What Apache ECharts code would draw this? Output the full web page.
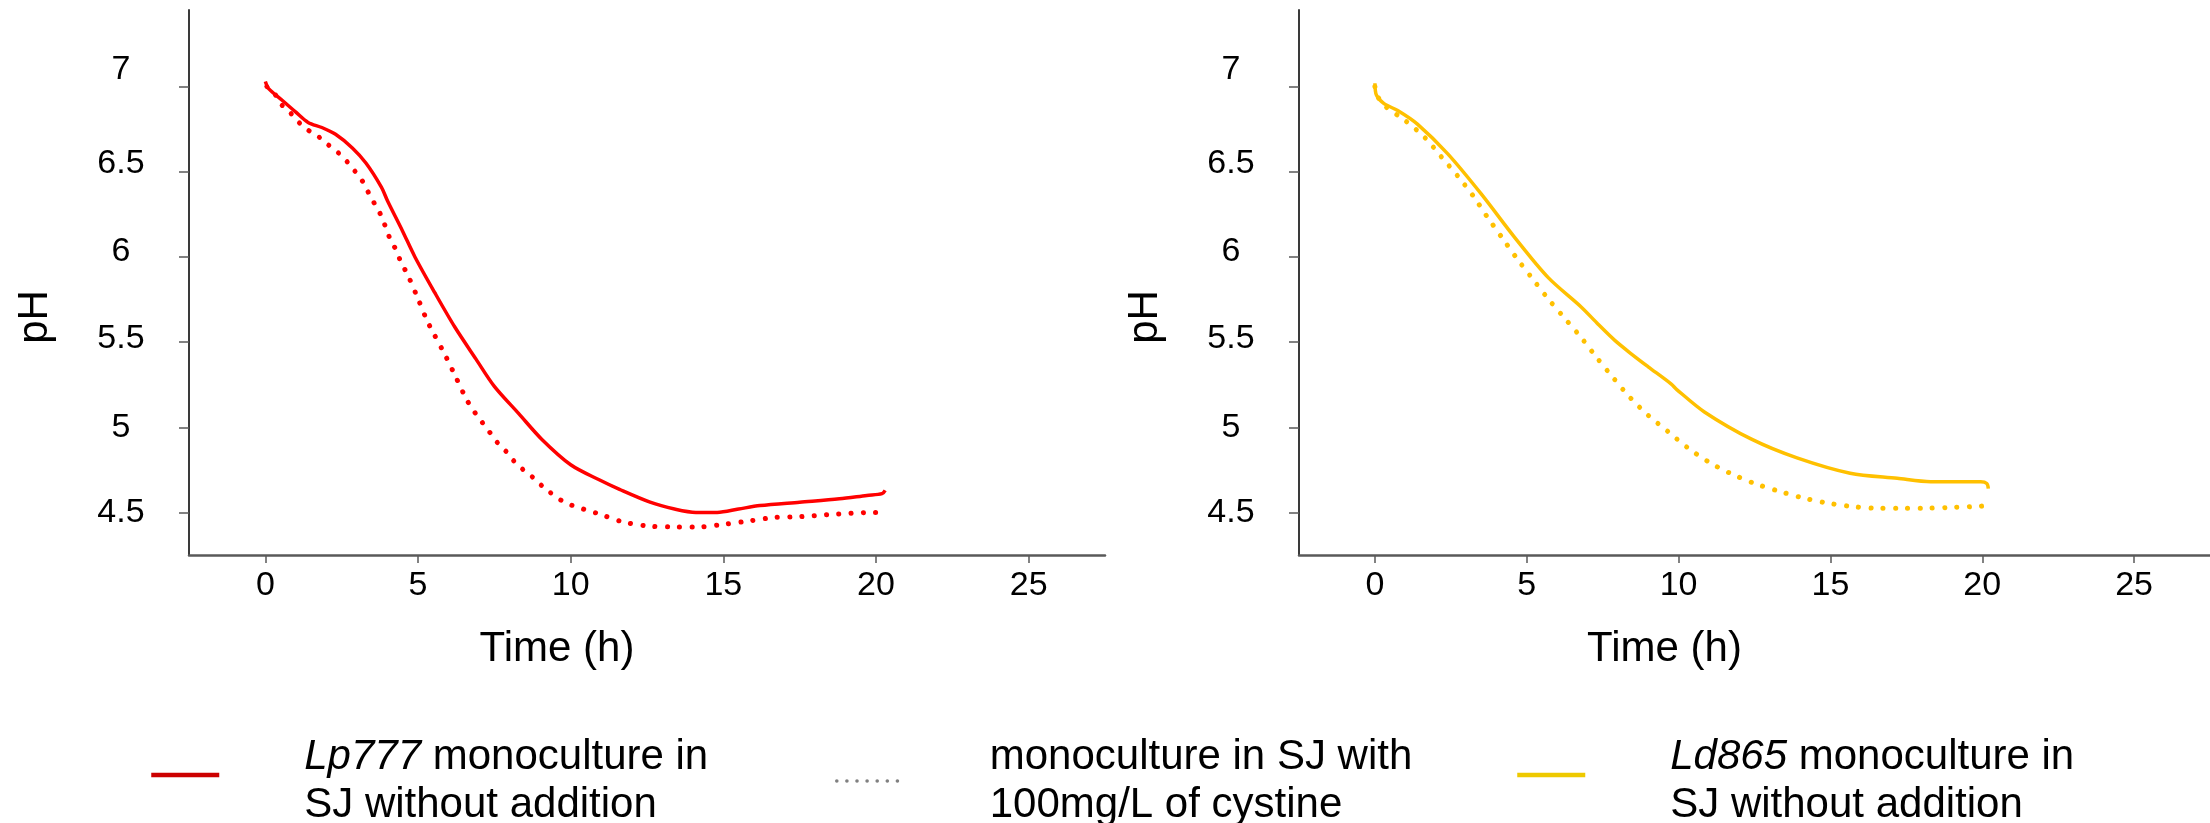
<!DOCTYPE html>
<html>
<head>
<meta charset="utf-8">
<script src="https://cdn.jsdelivr.net/npm/echarts@6/dist/echarts.min.js"></script>
<style>
html,body{margin:0;padding:0;background:#fff;}
#c{width:2210px;height:823px;}
</style>
</head>
<body>
<div id="c"></div>
<script>
// ---- data ----
const lp777Time = [0, 0.1, 0.55, 1.0, 1.4, 1.85, 2.3, 2.85, 3.3, 3.8, 4.0, 4.5, 4.9, 5.55, 6.2, 6.9, 7.5, 8.3, 9.05, 10.0, 10.95, 11.6, 12.6, 13.4, 14.1, 14.8, 15.5, 16.2, 17.5, 18.8, 19.7, 20.2, 20.3];
const lp777PH   = [7.03, 6.99, 6.92, 6.85, 6.79, 6.76, 6.72, 6.64, 6.55, 6.41, 6.33, 6.15, 6.00, 5.79, 5.59, 5.40, 5.24, 5.08, 4.93, 4.78, 4.69, 4.635, 4.56, 4.52, 4.50, 4.50, 4.52, 4.54, 4.56, 4.58, 4.60, 4.61, 4.63];

const lp777CysTime = [0.05, 0.3, 0.5, 0.8, 1.1, 1.4, 1.75, 2.05, 2.4, 2.7, 2.95, 3.2, 3.4, 3.6, 3.8, 3.95, 4.1, 4.3, 4.45, 4.65, 5.0, 5.3, 5.5, 5.9, 6.25, 6.6, 6.85, 7.1, 7.35, 7.6, 7.9, 8.15, 8.45, 8.8, 9.1, 9.8, 10.95, 11.7, 12.55, 13.35, 14.2, 15.0, 15.85, 16.65, 17.5, 18.7, 19.95, 20.3];
const lp777CysPH   = [7.0, 6.96, 6.90, 6.85, 6.79, 6.745, 6.705, 6.66, 6.61, 6.555, 6.50, 6.44, 6.37, 6.305, 6.24, 6.17, 6.10, 6.035, 5.965, 5.90, 5.755, 5.625, 5.555, 5.42, 5.29, 5.16, 5.09, 5.03, 4.97, 4.91, 4.855, 4.80, 4.75, 4.70, 4.65, 4.56, 4.49, 4.445, 4.42, 4.415, 4.415, 4.43, 4.45, 4.47, 4.475, 4.49, 4.50, 4.50];

const ld865Time = [0, 0.05, 0.3, 0.75, 1.4, 2.4, 3.5, 4.6, 5.7, 6.8, 7.35, 7.9, 8.45, 9.0, 9.75, 9.95, 10.85, 12.4, 13.9, 15.65, 17.2, 18.3, 19.95, 20.15, 20.2];
const ld865PH   = [7.02, 6.95, 6.90, 6.86, 6.78, 6.605, 6.37, 6.115, 5.88, 5.705, 5.605, 5.51, 5.43, 5.355, 5.255, 5.22, 5.09, 4.93, 4.82, 4.73, 4.70, 4.68, 4.68, 4.67, 4.64];

const ld865CysTime = [0, 0.1, 0.3, 1.0, 1.65, 2.2, 2.75, 3.25, 3.7, 4.2, 4.7, 5.2, 5.7, 6.25, 6.8, 7.3, 7.85, 8.4, 9.0, 9.65, 10.3, 11.0, 11.7, 12.5, 13.3, 14.1, 14.9, 15.7, 16.5, 17.35, 18.2, 19.05, 19.8, 20.2];
const ld865CysPH   = [7.0, 6.94, 6.89, 6.80, 6.70, 6.585, 6.47, 6.355, 6.235, 6.11, 5.985, 5.87, 5.755, 5.64, 5.525, 5.41, 5.29, 5.175, 5.07, 4.975, 4.88, 4.795, 4.73, 4.67, 4.625, 4.585, 4.555, 4.535, 4.525, 4.525, 4.525, 4.53, 4.535, 4.54];

const xTicks = [0, 5, 10, 15, 20, 25];
const yTicks = [4.5, 5, 5.5, 6, 6.5, 7];
const xAxisTitle = 'Time (h)';
const yAxisTitle = 'pH';
const seriesNames = [
  'Lp777 monoculture in SJ without addition',
  'monoculture in SJ with 100mg/L of cystine',
  'Ld865 monoculture in SJ without addition'
];
const legendLabels = [
  '{i|Lp777} monoculture in\nSJ without addition',
  'monoculture in SJ with\n100mg/L of cystine',
  '{i|Ld865} monoculture in\nSJ without addition'
];

// ---- styling ----
const FONT = '"Liberation Sans", Arial, "Helvetica", sans-serif';
const AXIS_GRAY = '#595959';
const RED = '#ff0000';
const YELLOW = '#ffc000';
// small upward lift of y tick labels (as in the reference)
const yLift = {a45: 0, a5: 0, a55: 3, a6: 5, a65: 8, a7: 17};
const yRich = {};
Object.keys(yLift).forEach(k => {
  yRich[k] = {fontSize: 34, fontFamily: FONT, color: '#000', padding: [0, 0, 2 * yLift[k], 0]};
});

function pairs(xs, ys) { return xs.map((x, i) => [x, ys[i]]); }

function makeX(gi) {
  return {
    type: 'value', gridIndex: gi, min: -2.5, max: 27.5,
    axisLine: {show: true, onZero: false, lineStyle: {color: AXIS_GRAY, width: 2.5}},
    axisTick: {show: true, customValues: xTicks, length: 8, lineStyle: {color: AXIS_GRAY, width: 1.5}},
    axisLabel: {customValues: xTicks, margin: 14, fontSize: 34, fontFamily: FONT, color: '#000'},
    splitLine: {show: false},
    name: xAxisTitle, nameLocation: 'middle', nameGap: 73,
    nameTextStyle: {fontSize: 42, fontFamily: FONT, color: '#000', padding: [0, 180, 0, 0]}
  };
}
function makeY(gi) {
  return {
    type: 'value', gridIndex: gi, min: 4.25, max: 7.45,
    axisLine: {show: true, onZero: false, lineStyle: {color: '#3a3a3a', width: 2}},
    axisTick: {show: true, customValues: yTicks, length: 10, lineStyle: {color: AXIS_GRAY, width: 1.5}},
    axisLabel: {
      customValues: yTicks, margin: 68, align: 'center', fontSize: 34, fontFamily: FONT, color: '#000',
      formatter: v => '{a' + String(v).replace('.', '') + '|' + v + '}',
      rich: yRich
    },
    splitLine: {show: false},
    name: yAxisTitle, nameLocation: 'middle', nameGap: 133,
    nameTextStyle: {fontSize: 42, fontFamily: FONT, color: '#000', padding: [0, 69, 0, 0]}
  };
}
function solid(name, xi, xs, ys, color) {
  return {
    name, type: 'line', xAxisIndex: xi, yAxisIndex: xi, data: pairs(xs, ys),
    symbol: 'none', showSymbol: false, smooth: 0.3, z: 3,
    lineStyle: {color, width: 3.5}, itemStyle: {color}
  };
}
function dotted(name, xi, xs, ys, color) {
  return {
    name, type: 'line', xAxisIndex: xi, yAxisIndex: xi, data: pairs(xs, ys),
    symbol: 'none', showSymbol: false, smooth: 0.3, z: 2,
    lineStyle: {color, width: 5, type: [0.1, 12.2], cap: 'round'}, itemStyle: {color}
  };
}
function makeLegend(i, left, top, lineStyle, padTop) {
  return {
    data: [{name: seriesNames[i], lineStyle: lineStyle, itemStyle: {opacity: 0}}],
    left, top, padding: 0, itemWidth: 68, itemHeight: 10, selectedMode: false,
    formatter: () => legendLabels[i],
    itemStyle: {opacity: 0},
    textStyle: {
      fontSize: 42, lineHeight: 48, fontFamily: FONT, color: '#000', padding: [padTop, 0, 0, 80],
      rich: {i: {fontStyle: 'italic', fontSize: 42, lineHeight: 48, fontFamily: FONT, color: '#000'}}
    }
  };
}

const chart = echarts.init(document.getElementById('c'), null, {renderer: 'canvas'});
chart.setOption({
  animation: false,
  backgroundColor: '#fff',
  grid: [
    {left: 189, top: 10, width: 916, height: 545},
    {left: 1299, top: 10, width: 916, height: 545}
  ],
  xAxis: [makeX(0), makeX(1)],
  yAxis: [makeY(0), makeY(1)],
  legend: [
    makeLegend(0, 149, 721, {color: '#cc0000', width: 4.5, type: 'solid'}, 12),
    makeLegend(1, 835, 733, {color: '#808080', width: 3.5, type: [0.1, 10], cap: 'round'}, 0),
    makeLegend(2, 1515, 721, {color: '#eec900', width: 4.5, type: 'solid'}, 12)
  ],
  series: [
    solid(seriesNames[0], 0, lp777Time, lp777PH, RED),
    dotted(seriesNames[1], 0, lp777CysTime, lp777CysPH, RED),
    solid(seriesNames[2], 1, ld865Time, ld865PH, YELLOW),
    dotted(seriesNames[1], 1, ld865CysTime, ld865CysPH, YELLOW)
  ]
});
</script>
</body>
</html>
